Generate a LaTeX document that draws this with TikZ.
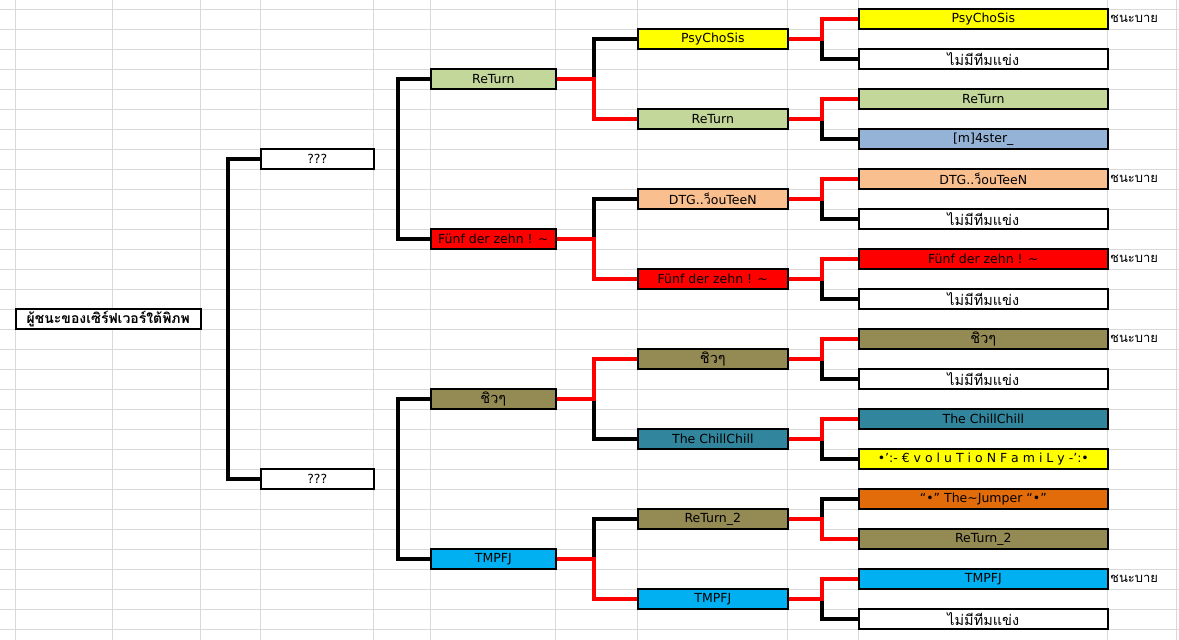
\documentclass[tikz,border=0pt]{standalone}
\usepackage{fontspec}
\setmainfont{DejaVu Sans}
\newfontfamily\thaifont[Script=Thai]{Loma}
\definecolor{cyel}{HTML}{FFFF00}
\definecolor{cgreen}{HTML}{C4D79B}
\definecolor{cblue}{HTML}{95B3D7}
\definecolor{cpeach}{HTML}{FABF8F}
\definecolor{colive}{HTML}{948A54}
\definecolor{cteal}{HTML}{31859C}
\definecolor{corange}{HTML}{E26B0A}
\definecolor{ccyan}{HTML}{00B0F0}
\definecolor{cgrid}{HTML}{D9D9D9}
\begin{document}
\begin{tikzpicture}[x=1pt,y=-1pt,
    cell/.style={draw, fill=white, line width=1.6pt, minimum height=20pt, inner sep=0pt, anchor=west,
      font=\fontsize{12.5}{14}\selectfont},
    thaitext/.style={font=\thaifont\fontsize{14.5}{16}\selectfont},
    rootcell/.style={cell, minimum width=185pt, font=\thaifont\bfseries\fontsize{14}{16}\selectfont},
    qcell/.style={cell, minimum width=113pt},
    semicell/.style={cell, minimum width=125pt},
    quartcell/.style={cell, minimum width=150pt},
    teamcell/.style={cell, minimum width=249pt},
    byelabel/.style={anchor=west, inner sep=0pt, font=\thaifont\fontsize{13}{14}\selectfont},
    win/.style={red, line width=4pt},
    lose/.style={black, line width=4pt}]
      \useasboundingbox (0,0) rectangle (1179,640);
      \fill[white] (0,0) rectangle (1179,640);
      % sheet grid
      \foreach \y in {9,29,...,629} \draw[cgrid] (0,\y) -- (1179,\y);
      \foreach \x in {15,112,200,260,373,430,555,637,787,858,1107,1176} \draw[cgrid] (\x,0) -- (\x,640);

      \node[rootcell] (root) at (15,319) {ผู้ชนะของเซิร์ฟเวอร์ใต้พิภพ};
      \node[qcell] (qa) at (260,159) {???};
      \node[qcell] (qb) at (260,479) {???};

      \node[semicell, fill=cgreen] (r2ret) at (430,79) {ReTurn};
      \node[semicell, fill=red] (r2fun) at (430,239) {Fünf der zehn ! \textasciitilde};
      \node[semicell, thaitext, fill=colive] (r2chi) at (430,399) {ชิวๆ};
      \node[semicell, fill=ccyan] (r2tmp) at (430,559) {TMPFJ};

      \node[quartcell, fill=cyel] (r3psy) at (637,39) {PsyChoSis};
      \node[quartcell, fill=cgreen] (r3ret) at (637,119) {ReTurn};
      \node[quartcell, fill=cpeach] (r3dtg) at (637,199) {DTG..{\thaifont ว็}ouTeeN};
      \node[quartcell, fill=red] (r3fun) at (637,279) {Fünf der zehn ! \textasciitilde};
      \node[quartcell, thaitext, fill=colive] (r3chi) at (637,359) {ชิวๆ};
      \node[quartcell, fill=cteal] (r3cc) at (637,439) {The ChillChill};
      \node[quartcell, fill=colive] (r3re2) at (637,519) {ReTurn\_2};
      \node[quartcell, fill=ccyan] (r3tmp) at (637,599) {TMPFJ};

      \node[teamcell, fill=cyel] (r4psy) at (858,19) {PsyChoSis};
      \node[teamcell, thaitext] (r4noa) at (858,59) {ไม่มีทีมแข่ง};
      \node[teamcell, fill=cgreen] (r4ret) at (858,99) {ReTurn};
      \node[teamcell, fill=cblue] (r4mas) at (858,139) {[m]4ster\_};
      \node[teamcell, fill=cpeach] (r4dtg) at (858,179) {DTG..{\thaifont ว็}ouTeeN};
      \node[teamcell, thaitext] (r4nob) at (858,219) {ไม่มีทีมแข่ง};
      \node[teamcell, fill=red] (r4fun) at (858,259) {Fünf der zehn ! \textasciitilde};
      \node[teamcell, thaitext] (r4noc) at (858,299) {ไม่มีทีมแข่ง};
      \node[teamcell, thaitext, fill=colive] (r4chi) at (858,339) {ชิวๆ};
      \node[teamcell, thaitext] (r4nod) at (858,379) {ไม่มีทีมแข่ง};
      \node[teamcell, fill=cteal] (r4cc) at (858,419) {The ChillChill};
      \node[teamcell, fill=cyel] (r4evo) at (858,459) {•':- € v o l u T i o N F a m i L y -':•};
      \node[teamcell, fill=corange] (r4jum) at (858,499) {“•” The\textasciitilde Jumper “•”};
      \node[teamcell, fill=colive] (r4re2) at (858,539) {ReTurn\_2};
      \node[teamcell, fill=ccyan] (r4tmp) at (858,579) {TMPFJ};
      \node[teamcell, thaitext] (r4noe) at (858,619) {ไม่มีทีมแข่ง};

      \node[byelabel] (byea) at (1110,19) {ชนะบาย};
      \node[byelabel] (byeb) at (1110,179) {ชนะบาย};
      \node[byelabel] (byec) at (1110,259) {ชนะบาย};
      \node[byelabel] (byed) at (1110,339) {ชนะบาย};
      \node[byelabel] (byee) at (1110,579) {ชนะบาย};

      % brackets without a winner yet
      \draw[lose] (qa.west) -- ++(-32,0) |- (qb.west);
      \draw[lose] (r2ret.west) -- ++(-32,0) |- (r2fun.west);
      \draw[lose] (r2chi.west) -- ++(-32,0) |- (r2tmp.west);

      % second round
      \draw[lose] (r2ret.east) -- ++(37,0) |- (r3psy.west);
      \draw[win] (r2ret.east) -- ++(37,0) |- (r3ret.west);
      \draw[lose] (r2fun.east) -- ++(37,0) |- (r3dtg.west);
      \draw[win] (r2fun.east) -- ++(37,0) |- (r3fun.west);
      \draw[lose] (r2chi.east) -- ++(37,0) |- (r3cc.west);
      \draw[win] (r2chi.east) -- ++(37,0) |- (r3chi.west);
      \draw[lose] (r2tmp.east) -- ++(37,0) |- (r3re2.west);
      \draw[win] (r2tmp.east) -- ++(37,0) |- (r3tmp.west);

      % first round
      \draw[lose] (r3psy.east) -- ++(33,0) |- (r4noa.west);
      \draw[win] (r3psy.east) -- ++(33,0) |- (r4psy.west);
      \draw[lose] (r3ret.east) -- ++(33,0) |- (r4mas.west);
      \draw[win] (r3ret.east) -- ++(33,0) |- (r4ret.west);
      \draw[lose] (r3dtg.east) -- ++(33,0) |- (r4nob.west);
      \draw[win] (r3dtg.east) -- ++(33,0) |- (r4dtg.west);
      \draw[lose] (r3fun.east) -- ++(33,0) |- (r4noc.west);
      \draw[win] (r3fun.east) -- ++(33,0) |- (r4fun.west);
      \draw[lose] (r3chi.east) -- ++(33,0) |- (r4nod.west);
      \draw[win] (r3chi.east) -- ++(33,0) |- (r4chi.west);
      \draw[lose] (r3cc.east) -- ++(33,0) |- (r4evo.west);
      \draw[win] (r3cc.east) -- ++(33,0) |- (r4cc.west);
      \draw[lose] (r3re2.east) -- ++(33,0) |- (r4jum.west);
      \draw[win] (r3re2.east) -- ++(33,0) |- (r4re2.west);
      \draw[lose] (r3tmp.east) -- ++(33,0) |- (r4noe.west);
      \draw[win] (r3tmp.east) -- ++(33,0) |- (r4tmp.west);
    \end{tikzpicture}
\end{document}
